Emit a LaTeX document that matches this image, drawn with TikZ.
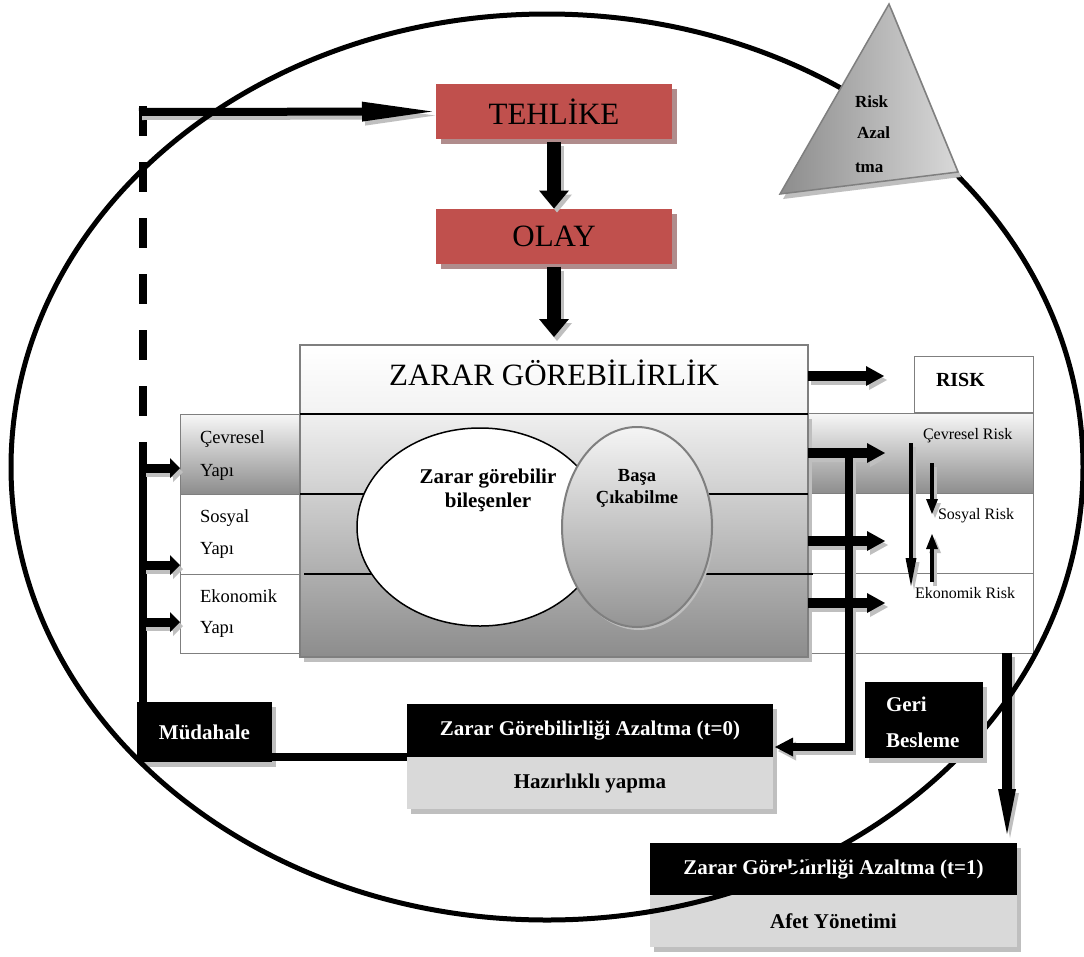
\documentclass[tikz,border=0pt]{standalone}
\usepackage{fontspec}
\setmainfont{Liberation Serif}
\usetikzlibrary{arrows.meta,shapes.geometric,shadows,calc}
\definecolor{tred}{HTML}{C0504D}
\definecolor{tredsh}{HTML}{B08C8C}
\definecolor{lgray}{HTML}{D9D9D9}
\definecolor{shgray}{HTML}{BFBFBF}
\definecolor{edgegray}{HTML}{7F7F7F}

\newcommand\myarrows[1]{%
 \draw[bigarr,#1] ($(teh.south)+(0,3)$) -- (olay.north);
 \draw[bigarr,#1] ($(olay.south)+(0,3)$) -- ($(ztop.north)+(0,-8)$);
 \draw[toparr,#1] (tl) -- ($(teh.west)+(-4,0)$);
 \draw[smallarr,#1] (v1) -- (cy.west |- v1);
 \draw[smallarr,#1] (v2) -- (sy.west |- v2);
 \draw[smallarr,#1] (v3) -- (ey.west |- v3);
 \draw[midarr,#1] (ztop.east |- r0) -- (r0);
 \draw[midarr,#1] (zb.east |- r1) -- (r1);
 \draw[midarr,#1] (zb.east |- r2) -- (r2);
 \draw[midarr,#1] (zb.east |- r3) -- (r3);
 \draw[fbarr,#1] (fb1) -- (fb2) -- ($(t0b.east |- fb2)+(2,0)$);
 \draw[thinarr,#1] (ta1) -- (ta2);
 \draw[thinarrb,#1] (tb1) -- (tb2);
 \draw[thinarrb,#1] (tc1) -- (tc2);
 \draw[downarr,#1] (bd1) -- (bd2);
}

\begin{document}
\begin{tikzpicture}[x=1pt,y=-1pt,
 every node/.style={inner sep=0pt, outer sep=0pt},
 shad/.style={drop shadow={shadow xshift=4pt,shadow yshift=-5pt,fill=shgray,opacity=1}},
 redbox/.style={fill=tred, minimum width=236pt, minimum height=55pt,
   font=\fontsize{31pt}{31pt}\selectfont,
   drop shadow={shadow xshift=5pt,shadow yshift=-5pt,fill=tredsh,opacity=1}},
 cell/.style={draw=edgegray, line width=0.8pt, fill=white, minimum height=80pt},
 gradcell/.style={cell, top color=black!3, bottom color=black!45},
 blackbox/.style={fill=black, text=white, font=\bfseries\fontsize{21pt}{21pt}\selectfont, shad},
 graybox/.style={fill=lgray, font=\bfseries\fontsize{21pt}{21pt}\selectfont, shad},
 lbl/.style={anchor=base west},
 clbl/.style={anchor=base},
 fyapi/.style={font=\fontsize{18.5pt}{18.5pt}\selectfont},
 frisk/.style={font=\fontsize{16pt}{16pt}\selectfont},
 fbold/.style={font=\bfseries\fontsize{21pt}{21pt}\selectfont},
 ftri/.style={font=\bfseries\fontsize{17pt}{17pt}\selectfont},
 bigarr/.style={line width=14pt, -{Triangle[width=30pt,length=18pt,line width=0pt]}},
 toparr/.style={line width=8pt, -{Triangle[width=20pt,length=70pt,line width=0pt]}},
 smallarr/.style={line width=9pt, -{Triangle[width=20pt,length=10pt,line width=0pt]}},
 midarr/.style={line width=10pt, -{Triangle[width=20pt,length=18pt,line width=0pt]}},
 fbarr/.style={line width=8pt, line join=miter, -{Triangle[width=19pt,length=18pt,line width=0pt]}},
 thinarr/.style={line width=4pt, -{Triangle[width=11pt,length=28pt,line width=0pt]}},
 thinarrb/.style={line width=4pt, -{Triangle[width=12pt,length=15pt,line width=0pt]}},
 downarr/.style={line width=10pt, -{Triangle[width=18pt,length=45pt,line width=0pt]}},
 thickline/.style={line width=8pt}
]
\useasboundingbox (0,0) rectangle (1084,956);
\fill[white] (0,0) rectangle (1084,956);

% coordinates
\coordinate (tl) at (139,112);
\coordinate (dtop) at (143,106);
\coordinate (dend) at (143,462);
\coordinate (v1) at (143,468);
\coordinate (v2) at (143,565);
\coordinate (v3) at (143,622);
\coordinate (r0) at (884,376);
\coordinate (r1) at (885,453);
\coordinate (r2) at (885,541);
\coordinate (r3) at (885,603);
\coordinate (fb1) at (849,453);
\coordinate (fb2) at (849,747);
\coordinate (ta1) at (911,443);
\coordinate (ta2) at (911,586);
\coordinate (tb1) at (932,463);
\coordinate (tb2) at (932,514);
\coordinate (tc1) at (932,582);
\coordinate (tc2) at (932,534);
\coordinate (bd1) at (1007,653);
\coordinate (bd2) at (1007,834);

% left column
\node[gradcell, minimum width=120pt] (cy) at (240,454) {};
\node[cell, minimum width=120pt] (sy) at (240,534) {};
\node[cell, minimum width=120pt, minimum height=79pt] (ey) at (240,613.5) {};
\node[lbl, fyapi] (cyt1) at (200,443) {Çevresel};
\node[lbl, fyapi] (cyt2) at (200,476) {Yapı};
\node[lbl, fyapi] (syt1) at (200,522) {Sosyal};
\node[lbl, fyapi] (syt2) at (200,554) {Yapı};
\node[lbl, fyapi] (eyt1) at (200,602) {Ekonomik};
\node[lbl, fyapi] (eyt2) at (200,633) {Yapı};

% risk column
\node[cell, minimum width=119pt, minimum height=56pt] (risk) at (973.5,384) {};
\node[lbl, fbold, font=\bfseries\fontsize{20pt}{20pt}\selectfont] (riskt) at (936,386) {RISK};
\node[gradcell, minimum width=225pt, minimum height=81pt] (cr) at (920.5,453.5) {};
\node[cell, minimum width=225pt] (sr) at (920.5,533.5) {};
\node[cell, minimum width=225pt] (er) at (920.5,613) {};
\node[lbl, frisk] (crt) at (923,439) {Çevresel Risk};
\node[lbl, frisk] (srt) at (938,519) {Sosyal Risk};
\node[lbl, frisk] (ert) at (915,598) {Ekonomik Risk};

% zarar box
\node[draw=edgegray, line width=2pt, top color=black!6, bottom color=black!45,
      minimum width=508pt, minimum height=243pt, shad] (zb) at (554,535.5) {};
\node[draw=edgegray, line width=2pt, top color=white, bottom color=black!5,
      minimum width=508pt, minimum height=69pt] (ztop) at (554,379.5) {};
\node[clbl, font=\fontsize{31pt}{31pt}\selectfont] (ztopt) at (554,385) {ZARAR GÖREBİLİRLİK};
\draw[line width=1.5pt] (ztop.south west) -- (ztop.south east);
\draw[line width=1.5pt] (zb.west |- cy.south) -- (zb.east |- cy.south);
\draw[line width=1.5pt] ($(zb.west |- ey.north)+(4,0)$) -- ($(zb.east |- ey.north)+(5,0)$);

% inner ellipses
\node[ellipse, draw=black, line width=1.5pt, fill=white,
      minimum width=246pt, minimum height=198pt] (zge) at (480,527) {};
\node[ellipse, draw=edgegray, line width=2pt, top color=black!4, bottom color=black!42,
      minimum width=150pt, minimum height=200pt,
      drop shadow={shadow xshift=2pt,shadow yshift=-3pt,fill=shgray,opacity=1}] (bce) at (637,527) {};
\node[clbl, fbold] (zgt1) at (488,483) {Zarar görebilir};
\node[clbl, fbold] (zgt2) at (488,507) {bileşenler};
\node[clbl, font=\bfseries\fontsize{18.5pt}{18.5pt}\selectfont] (bct1) at (637,481) {Başa};
\node[clbl, font=\bfseries\fontsize{18.5pt}{18.5pt}\selectfont] (bct2) at (637,503) {Çıkabilme};

% red boxes
\node[redbox] (teh) at (554,111.5) {TEHLİKE};
\node[redbox] (olay) at (554,236) {OLAY};

% bottom boxes
\node[blackbox, minimum width=366pt, minimum height=53pt] (t0b) at (590,730.5) {Zarar Görebilirliği Azaltma (t=0)};
\node[graybox, minimum width=366pt, minimum height=52pt] (t0g) at (590,783) {Hazırlıklı yapma};
\node[blackbox, minimum width=367pt, minimum height=52pt] (t1b) at (833.5,869) {Zarar Görebilirliği Azaltma (t=1)};
\node[graybox, minimum width=367pt, minimum height=52pt] (t1g) at (833.5,921) {Afet Yönetimi};
\node[blackbox, minimum width=135pt, minimum height=60pt] (mud) at (204.5,732) {Müdahale};

% plain lines
\draw[thickline, dash pattern=on 30pt off 26pt] (dtop) -- (dend);
\draw[thickline] ($(dend)+(0,-2)$) -- (v1 |- mud.north);
\draw[thickline] (mud.east |- t0b.south) -- (t0b.south west);

% arrows with shadows
\begin{scope}[transform canvas={shift={(3pt,-4pt)}}]
\myarrows{shgray}
\end{scope}
\myarrows{black}

% outer ellipse
\node[ellipse, draw=black, line width=5pt, minimum width=1072pt, minimum height=906pt] (outer) at (547,467) {};

% Geri Besleme
\node[blackbox, minimum width=118pt, minimum height=76pt] (geri) at (924,720) {};
\node[lbl, fbold, text=white] (gt1) at (886,711) {Geri};
\node[lbl, fbold, text=white] (gt2) at (886,747) {Besleme};

% triangle
\coordinate (tA) at (889,4);
\coordinate (tB) at (780,194);
\coordinate (tC) at (958,172);
\fill[shgray] ($(tA)+(3,5)$) -- ($(tB)+(3,5)$) -- ($(tC)+(3,5)$) -- cycle;
\draw[draw=edgegray, line width=1.5pt, left color=black!45, right color=black!15] (tA) -- (tB) -- (tC) -- cycle;
\node[lbl, ftri] (trt1) at (855,107) {Risk};
\node[lbl, ftri] (trt2) at (857,138) {Azal};
\node[lbl, ftri] (trt3) at (855,172) {tma};
\end{tikzpicture}
\end{document}
